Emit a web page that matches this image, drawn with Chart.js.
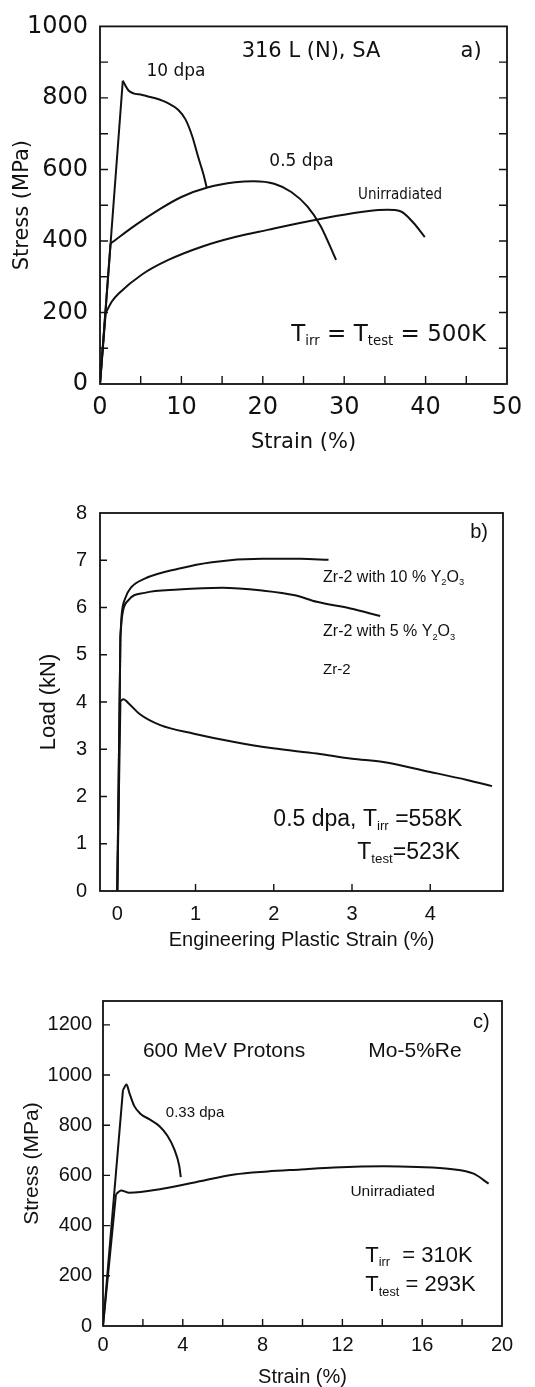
<!DOCTYPE html>
<html>
<head>
  <meta charset="UTF-8">
  <title>Stress-strain curves</title>
  <script src="https://cdn.jsdelivr.net/npm/chart.js"></script>
  <style>
    body { margin: 0; background: #fff; }
    .panel { position: absolute; left: 0; }
  </style>
</head>
<body>
  <div class="panel" style="top:0px"><canvas id="chartA" width="535" height="470"></canvas></div>
  <div class="panel" style="top:470px"><canvas id="chartB" width="535" height="490"></canvas></div>
  <div class="panel" style="top:960px"><canvas id="chartC" width="535" height="427"></canvas></div>

  <script>
    // a) 316 L (N), SA
    const strainA10 = [0, 2.8, 3.5, 5.2, 6.8, 8.4, 9.6, 10.5, 11.3, 12.1, 12.7, 13.1];
    const stressA10 = [0, 848, 821, 808, 799, 785, 767, 740, 695, 632, 587, 550];
    const strainA05 = [0, 1.3, 4.4, 7.2, 10.0, 13.3, 16.6, 18.9, 21.4, 23.5, 25.5, 27.1, 29.0];
    const stressA05 = [0, 393, 445, 487, 523, 550, 564, 567, 560, 537, 496, 442, 347];
    const strainAU = [0, 0.7, 1.5, 2.3, 5.2, 8.4, 12.5, 16.6, 20.6, 24.7, 28.8, 32.8, 35.3, 36.9, 38.5, 39.9];
    const stressAU = [0, 199, 232, 253, 307, 347, 384, 411, 431, 451, 469, 483, 487, 483, 451, 411];
    const ticksAX = [0, 5, 10, 15, 20, 25, 30, 35, 40, 45, 50];
    const ticksAY = [0, 100, 200, 300, 400, 500, 600, 700, 800, 900, 1000];

    // b) Zr-2 load vs plastic strain
    const strainB10 = [0, 0.04, 0.056, 0.1, 0.18, 0.35, 0.78, 1.21, 1.85, 2.34, 2.7];
    const loadB10 = [0, 5.4, 5.85, 6.19, 6.43, 6.61, 6.82, 6.96, 7.03, 7.03, 7.01];
    const strainB5 = [0, 0.04, 0.06, 0.14, 0.35, 0.78, 1.34, 1.85, 2.27, 2.55, 2.98, 3.36];
    const loadB5 = [0, 5.4, 5.8, 6.15, 6.31, 6.38, 6.42, 6.36, 6.26, 6.12, 5.98, 5.82];
    const strainB0 = [0, 0.04, 0.08, 0.14, 0.29, 0.55, 0.98, 1.48, 1.99, 2.55, 3.0, 3.4, 4.0, 4.47, 4.79];
    const loadB0 = [0, 4.02, 4.06, 3.98, 3.74, 3.51, 3.33, 3.16, 3.02, 2.91, 2.80, 2.73, 2.52, 2.35, 2.22];
    const ticksBX = [0, 1, 2, 3, 4];
    const ticksBY = [0, 1, 2, 3, 4, 5, 6, 7, 8];

    // c) Mo-5%Re
    const strainC33 = [0, 1.0, 1.18, 1.32, 1.57, 1.9, 2.32, 2.82, 3.23, 3.57, 3.82, 3.9];
    const stressC33 = [0, 940, 962, 929, 876, 844, 824, 797, 758, 705, 639, 593];
    const strainCU = [0, 0.65, 0.9, 1.32, 2.98, 4.65, 6.58, 8.25, 9.92, 11.58, 14.08, 15.75, 17.42, 18.58, 19.33];
    const stressCU = [0, 525, 540, 531, 547, 573, 604, 616, 624, 632, 637, 634, 626, 607, 567];
    const ticksCX = [0, 2, 4, 6, 8, 10, 12, 14, 16, 18, 20];
    const ticksCY = [0, 200, 400, 600, 800, 1000, 1200];

    const INK = '#111';
    const pts = (xs, ys) => xs.map((x, i) => ({ x: x, y: ys[i] }));
    const line = (data, smooth) => ({
      data: data, showLine: true, borderColor: INK, borderWidth: 2,
      pointRadius: 0, cubicInterpolationMode: smooth ? 'monotone' : 'default', tension: 0, fill: false
    });
    // elastic part (up to index k) straight, plastic part smooth
    const curve = (xs, ys, k) => {
      const all = pts(xs, ys);
      return [line(all.slice(0, k + 1), false), line(all.slice(k), true)];
    };

    // draws text with optional subscript parts: [[text, isSub], ...]
    function drawRich(ctx, parts, x, y, size, family, align) {
      const fn = s => s + 'px ' + family;
      let w = 0;
      parts.forEach(p => { ctx.font = fn(p[1] ? size * 0.58 : size); w += ctx.measureText(p[0]).width; });
      let cx = align === 'right' ? x - w : x;
      ctx.textAlign = 'left';
      ctx.textBaseline = 'middle';
      parts.forEach(p => {
        const s = p[1] ? size * 0.58 : size;
        ctx.font = fn(s);
        ctx.fillText(p[0], cx, p[1] ? y + size * 0.32 : y);
        cx += ctx.measureText(p[0]).width;
      });
    }

    const framePlugin = {
      id: 'frame',
      afterDraw(chart, args, o) {
        const { ctx, chartArea: a, scales } = chart;
        ctx.save();
        ctx.strokeStyle = INK;
        ctx.fillStyle = INK;
        ctx.lineWidth = 1.8;
        ctx.strokeRect(a.left, a.top, a.right - a.left, a.bottom - a.top);
        ctx.lineWidth = 1.4;
        ctx.beginPath();
        scales.x.ticks.forEach(t => {
          const p = scales.x.getPixelForValue(t.value);
          if (p <= a.left + 1 || p >= a.right - 1) return;
          ctx.moveTo(p, a.bottom); ctx.lineTo(p, a.bottom - o.tick);
        });
        scales.y.ticks.forEach(t => {
          const p = scales.y.getPixelForValue(t.value);
          if (p <= a.top + 1 || p >= a.bottom - 1) return;
          ctx.moveTo(a.left, p); ctx.lineTo(a.left + o.tick, p);
          if (o.right) { ctx.moveTo(a.right, p); ctx.lineTo(a.right - o.tick, p); }
        });
        ctx.stroke();
        o.notes.forEach(n => {
          drawRich(ctx, n.parts, scales.x.getPixelForValue(n.x), scales.y.getPixelForValue(n.y),
            n.size, n.family || o.family, n.align || 'left');
        });
        ctx.restore();
      }
    };

    function makePanel(id, p) {
      const fixTicks = list => scale => { scale.ticks = list.map(v => ({ value: v })); };
      new Chart(document.getElementById(id), {
        type: 'scatter',
        data: { datasets: p.datasets },
        plugins: [framePlugin],
        options: {
          responsive: false,
          animation: false,
          events: [],
          layout: { padding: { top: p.top, right: p.right, left: 0, bottom: 0 } },
          plugins: {
            legend: { display: false },
            tooltip: { enabled: false },
            frame: { tick: p.tick, right: p.tickRight, notes: p.notes, family: p.family }
          },
          scales: {
            x: {
              type: 'linear', min: p.xMin, max: p.xMax,
              grid: { display: false, drawTicks: false }, border: { display: false },
              afterBuildTicks: fixTicks(p.xTicks),
              afterFit: s => { s.height = p.xH; },
              ticks: {
                color: INK, padding: p.xPad, maxRotation: 0, autoSkip: false,
                font: { family: p.family, size: p.tickSize },
                callback: v => (v % p.xLabelStep === 0 ? String(v) : '')
              },
              title: {
                display: true, text: p.xTitle, color: INK,
                font: { family: p.family, size: p.titleSize, lineHeight: 1 },
                padding: { top: 0, bottom: p.xTitlePad }
              }
            },
            y: {
              type: 'linear', min: p.yMin, max: p.yMax,
              grid: { display: false, drawTicks: false }, border: { display: false },
              afterBuildTicks: fixTicks(p.yTicks),
              afterFit: s => { s.width = p.yW; },
              ticks: {
                color: INK, padding: p.yPad, autoSkip: false,
                font: { family: p.family, size: p.tickSize },
                callback: v => (v % p.yLabelStep === 0 ? String(v) : '')
              },
              title: {
                display: true, text: p.yTitle, color: INK,
                font: { family: p.family, size: p.yTitleSize || p.titleSize, lineHeight: 1 },
                padding: { top: p.yTitlePad, bottom: 0 }
              }
            }
          }
        }
      });
    }

    makePanel('chartA', {
      datasets: [...curve(strainA10, stressA10, 1), ...curve(strainA05, stressA05, 1), ...curve(strainAU, stressAU, 1)],
      family: 'DejaVu Sans', tickSize: 24, titleSize: 21,
      xMin: 0, xMax: 50, yMin: 0, yMax: 1000,
      xTicks: ticksAX, yTicks: ticksAY, xLabelStep: 10, yLabelStep: 200,
      top: 14, right: 28, yW: 100, xH: 86, xPad: 9, yPad: 12,
      xTitle: 'Strain (%)', yTitle: 'Stress (MPa)', xTitlePad: 17, yTitlePad: 12,
      tick: 8, tickRight: true,
      notes: [
        { x: 17.4, y: 930, size: 21, parts: [['316 L (N), SA']] },
        { x: 44.3, y: 930, size: 21, parts: [['a)']] },
        { x: 5.7, y: 875, size: 17, parts: [['10 dpa']] },
        { x: 20.8, y: 621, size: 17, parts: [['0.5 dpa']] },
        { x: 31.7, y: 528, size: 15, family: 'DejaVu Sans Condensed', parts: [['Unirradiated']] },
        { x: 23.5, y: 138, size: 23, parts: [['T'], ['irr', 1], [' = T'], ['test', 1], [' = 500K']] }
      ]
    });

    makePanel('chartB', {
      datasets: [...curve(strainB10, loadB10, 1), ...curve(strainB5, loadB5, 1), ...curve(strainB0, loadB0, 1)],
      family: 'Liberation Sans', tickSize: 20, titleSize: 20, yTitleSize: 22,
      xMin: -0.221, xMax: 4.93, yMin: 0, yMax: 8,
      xTicks: ticksBX, yTicks: ticksBY, xLabelStep: 1, yLabelStep: 1,
      top: 43, right: 32, yW: 100, xH: 69, xPad: 11, yPad: 13,
      xTitle: 'Engineering Plastic Strain (%)', yTitle: 'Load (kN)', xTitlePad: 10, yTitlePad: 38,
      tick: 7, tickRight: false,
      notes: [
        { x: 4.51, y: 7.59, size: 20, parts: [['b)']] },
        { x: 2.63, y: 6.64, size: 16, parts: [['Zr-2 with 10 % Y'], ['2', 1], ['O'], ['3', 1]] },
        { x: 2.63, y: 5.48, size: 16, parts: [['Zr-2 with 5 % Y'], ['2', 1], ['O'], ['3', 1]] },
        { x: 2.63, y: 4.67, size: 15, parts: [['Zr-2']] },
        { x: 4.41, y: 1.52, size: 23, align: 'right', parts: [['0.5 dpa, T'], ['irr', 1], [' =558K']] },
        { x: 4.38, y: 0.82, size: 23, align: 'right', parts: [['T'], ['test', 1], ['=523K']] }
      ]
    });

    makePanel('chartC', {
      datasets: [...curve(strainC33, stressC33, 1), ...curve(strainCU, stressCU, 1)],
      family: 'Liberation Sans', tickSize: 20, titleSize: 20, yTitleSize: 21,
      xMin: 0, xMax: 20, yMin: 0, yMax: 1295,
      xTicks: ticksCX, yTicks: ticksCY, xLabelStep: 4, yLabelStep: 200,
      top: 41, right: 33, yW: 103, xH: 61, xPad: 7, yPad: 11,
      xTitle: 'Strain (%)', yTitle: 'Stress (MPa)', xTitlePad: 0, yTitlePad: 22,
      tick: 7, tickRight: false,
      notes: [
        { x: 18.55, y: 1208, size: 20, parts: [['c)']] },
        { x: 2.0, y: 1093, size: 21, parts: [['600 MeV Protons']] },
        { x: 13.3, y: 1093, size: 21, parts: [['Mo-5%Re']] },
        { x: 3.15, y: 848, size: 15, parts: [['0.33 dpa']] },
        { x: 12.4, y: 535, size: 15.5, parts: [['Unirradiated']] },
        { x: 13.15, y: 281, size: 22, parts: [['T'], ['irr', 1], ['  = 310K']] },
        { x: 13.15, y: 162, size: 22, parts: [['T'], ['test', 1], [' = 293K']] }
      ]
    });
  </script>
</body>
</html>
